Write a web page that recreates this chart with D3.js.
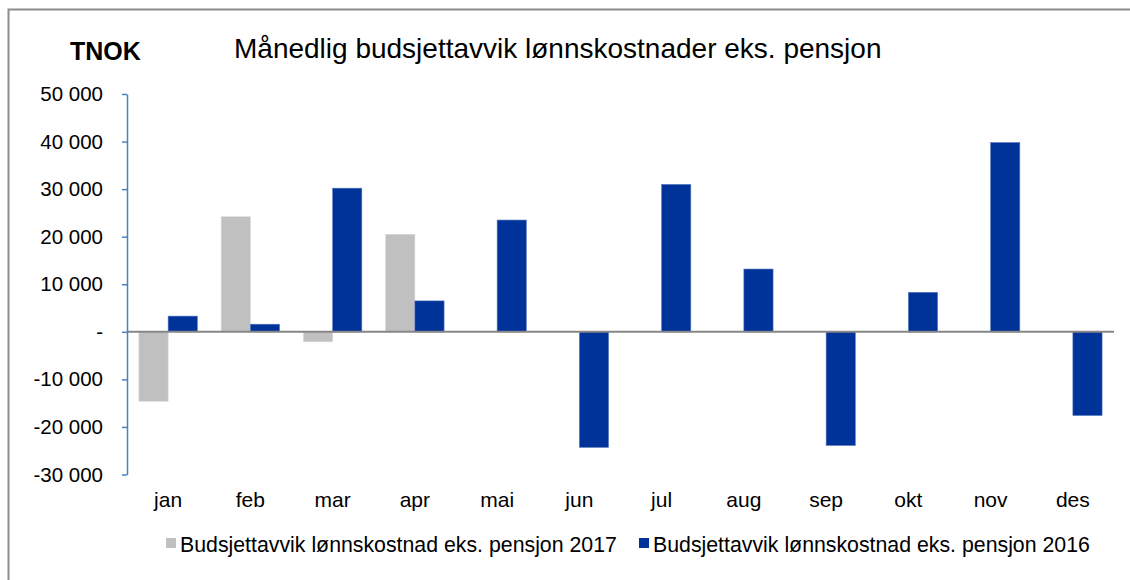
<!DOCTYPE html>
<html>
<head>
<meta charset="utf-8">
<script src="https://cdn.jsdelivr.net/npm/d3@7"></script>
<style>
  body { margin: 0; background: #fff; }
  svg { display: block; font-family: "Liberation Sans", Arial, sans-serif; }
</style>
</head>
<body>
<svg id="chart" width="1130" height="580"></svg>
<script>
const months = ["jan", "feb", "mar", "apr", "mai", "jun", "jul", "aug", "sep", "okt", "nov", "des"];
const values2017 = [-14600, 24200, -2100, 20500, null, null, null, null, null, null, null, null];
const values2016 = [3300, 1600, 30200, 6500, 23500, -24300, 31000, 13200, -23900, 8300, 39800, -17600];
const yTicks = [50000, 40000, 30000, 20000, 10000, 0, -10000, -20000, -30000];
const seriesNames = ["Budsjettavvik lønnskostnad eks. pensjon 2017", "Budsjettavvik lønnskostnad eks. pensjon 2016"];
const colors = ["#c0c0c0", "#003399"];

const svg = d3.select("#chart");

// outer frame
svg.append("rect")
  .attr("x", 8.5).attr("y", 9.5)
  .attr("width", 1140).attr("height", 600)
  .attr("fill", "none")
  .attr("stroke", "#8c8c8c")
  .attr("stroke-width", 2);

const plot = { left: 127, right: 1114, top: 94, bottom: 474.5 };

const x = d3.scaleBand()
  .domain(months)
  .range([plot.left, plot.right])
  .paddingInner(0.29)
  .paddingOuter(0.145);

const x1 = d3.scaleBand()
  .domain([0, 1])
  .range([0, x.bandwidth()]);

const y = d3.scaleLinear()
  .domain([-30000, 50000])
  .range([plot.bottom, plot.top]);

// excel style: "50 000", "-" for zero, plain hyphen for negatives
const fmt = v => v === 0 ? "-" : (v < 0 ? "-" : "") + d3.format(",")(Math.abs(v)).replace(/,/g, " ");

// bars
const series = [values2017, values2016];
series.forEach((vals, si) => {
  svg.append("g")
    .selectAll("rect")
    .data(months.map((m, i) => ({ m, v: vals[i] })).filter(d => d.v != null))
    .join("rect")
    .attr("x", d => x(d.m) + x1(si))
    .attr("width", x1.bandwidth())
    .attr("y", d => y(Math.max(0, d.v)))
    .attr("height", d => Math.abs(y(d.v) - y(0)))
    .attr("fill", colors[si])
    .attr("stroke", si === 0 ? "#d8d8d8" : "#5a78c0")
    .attr("stroke-width", 0.6);
});

// zero line
svg.append("line")
  .attr("x1", plot.left).attr("x2", plot.right)
  .attr("y1", y(0)).attr("y2", y(0))
  .attr("stroke", "#868686")
  .attr("stroke-width", 2);

// y axis
const yAxis = svg.append("g")
  .attr("transform", `translate(${plot.left},0)`)
  .call(d3.axisLeft(y).tickValues(yTicks).tickSize(5).tickSizeOuter(0).tickPadding(19).tickFormat(fmt));
yAxis.select(".domain").attr("stroke", "#4f81bd").attr("stroke-width", 1.5);
yAxis.selectAll(".tick line").attr("stroke", "#4f81bd").attr("stroke-width", 1.5);
yAxis.selectAll(".tick text")
  .attr("fill", "#000")
  .style("font-size", "20.5px");

// month labels
svg.append("g")
  .selectAll("text")
  .data(months)
  .join("text")
  .attr("x", d => x(d) + x.bandwidth() / 2)
  .attr("y", 507)
  .attr("text-anchor", "middle")
  .style("font-size", "21px")
  .text(d => d);

// titles
svg.append("text")
  .attr("x", 70).attr("y", 60)
  .style("font-size", "25px")
  .style("font-weight", "bold")
  .text("TNOK");

svg.append("text")
  .attr("x", 234).attr("y", 58)
  .style("font-size", "28px")
  .text("Månedlig budsjettavvik lønnskostnader eks. pensjon");

// legend
const legendX = [166, 639];
seriesNames.forEach((name, i) => {
  svg.append("rect")
    .attr("x", legendX[i]).attr("y", 538)
    .attr("width", 10).attr("height", 10)
    .attr("fill", colors[i]);
  svg.append("text")
    .attr("x", legendX[i] + 14).attr("y", 552)
    .style("font-size", "21.3px")
    .text(name);
});
</script>
</body>
</html>
